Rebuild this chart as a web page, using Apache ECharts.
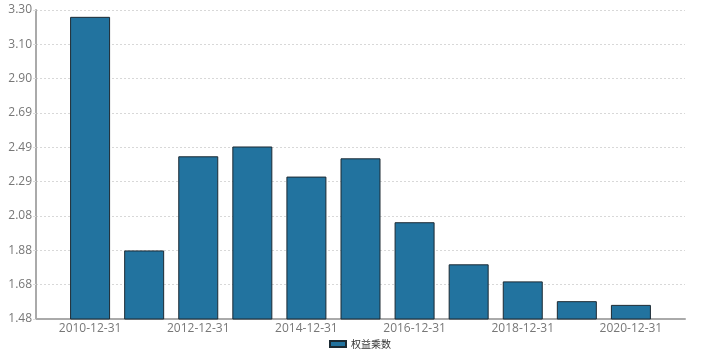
<!DOCTYPE html>
<html>
<head>
<meta charset="utf-8">
<script src="https://cdn.jsdelivr.net/npm/echarts@6/dist/echarts.min.js"></script>
<style>
html,body{margin:0;padding:0;background:#fff;}
#chart{width:720px;height:354px;}
</style>
</head>
<body>
<div id="chart"></div>
<script>
const categories = ['2010-12-31','2011-12-31','2012-12-31','2013-12-31','2014-12-31','2015-12-31','2016-12-31','2017-12-31','2018-12-31','2019-12-31','2020-12-31'];
const equityMultiplier = [3.263, 1.881, 2.438, 2.496, 2.318, 2.426, 2.048, 1.799, 1.698, 1.581, 1.559];
const seriesName = '权益乘数';
const yMin = 1.4755;
const yInterval = 0.2031;
const ySteps = 9;

// pad one empty slot on each side (the axis places bars on category boundaries)
const axisCats = [''].concat(categories, ['']);
const axisVals = ['-'].concat(equityMultiplier, ['-']);

const chart = echarts.init(document.getElementById('chart'));
chart.setOption({
  animation: false,
  backgroundColor: '#fff',
  grid: {left: 36, right: 35, top: 10, bottom: 35, containLabel: false},
  legend: {
    bottom: 0, left: 'center',
    icon: 'rect', itemWidth: 16, itemHeight: 6, itemGap: 10,
    textStyle: {fontSize: 10, color: '#333', fontFamily: 'Noto Sans CJK SC'},
    data: [seriesName]
  },
  xAxis: {
    type: 'category',
    data: axisCats,
    boundaryGap: false,
    axisLine: {lineStyle: {color: '#aaa', width: 2}},
    axisTick: {show: false},
    axisLabel: {
      interval: function (i) { return i % 2 === 1; },
      color: '#777', fontSize: 12, fontFamily: 'Open Sans', margin: 4
    },
    splitLine: {show: false}
  },
  yAxis: {
    type: 'value',
    min: yMin,
    max: yMin + yInterval * ySteps,
    interval: yInterval,
    axisLine: {show: true, lineStyle: {color: '#aaa', width: 2}},
    axisTick: {show: true, length: 3, lineStyle: {color: '#ddd'}},
    axisLabel: {
      color: '#777', fontSize: 12, fontFamily: 'Open Sans', margin: 4,
      formatter: function (v) { return v.toFixed(2); }
    },
    splitLine: {show: true, lineStyle: {color: '#d8d8d8', type: [2, 2], width: 1}}
  },
  series: [{
    name: seriesName,
    type: 'bar',
    data: axisVals,
    barWidth: 40,
    itemStyle: {color: '#22739f', borderColor: '#1c2a33', borderWidth: 1}
  }]
});
</script>
</body>
</html>
